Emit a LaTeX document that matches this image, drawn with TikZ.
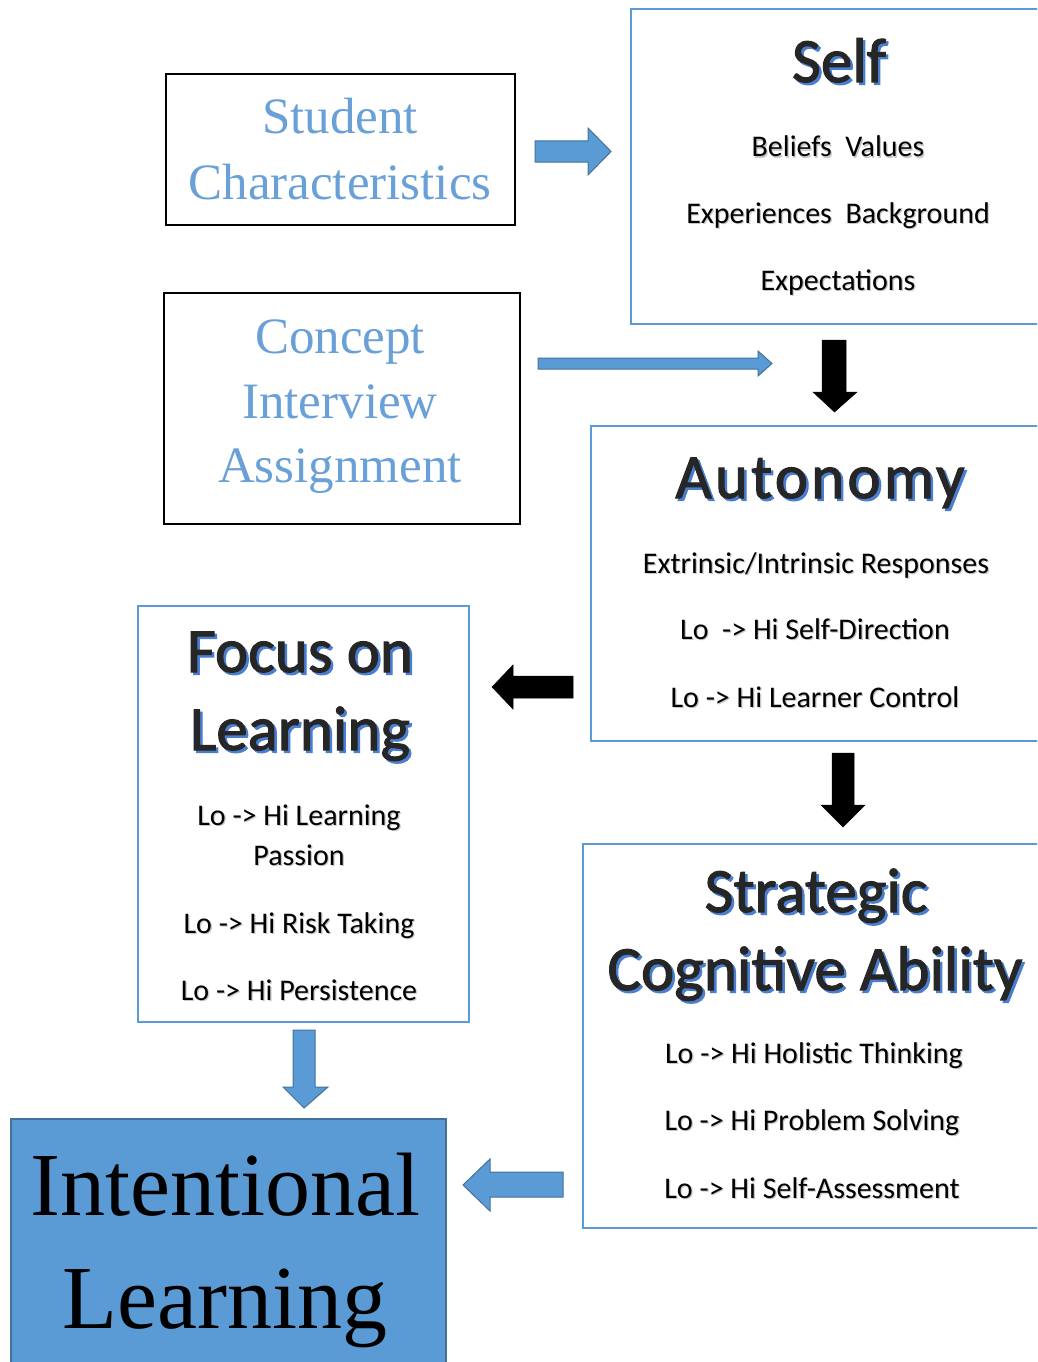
\documentclass[tikz,border=0pt]{standalone}
\usepackage{fontspec}
\usepackage{xcolor}
\setmainfont{Liberation Serif}
\newfontfamily\calfont{Carlito}
\newfontfamily\calhead[FakeBold=1.6]{Carlito}

\definecolor{boxblue}{RGB}{91,155,213}
\definecolor{edgeblue}{RGB}{65,113,156}
\definecolor{lightblue}{RGB}{106,160,216}
\definecolor{titlegray}{RGB}{38,38,38}
\definecolor{shadeblue}{RGB}{74,126,208}

% heading text with a blue drop shadow, body text with a soft grey one
\newcommand{\blueshade}[1]{\rlap{\kern2.5pt\raisebox{-2.5pt}{\color{shadeblue}#1}}{\color{titlegray}#1}}
\newcommand{\softshade}[1]{\rlap{\kern1.2pt\raisebox{-1.2pt}{\color{black!22}#1}}#1}

\begin{document}
\begin{tikzpicture}[x=1pt, y=-1pt,
    blackbox/.style={draw=black, line width=2pt, fill=white, anchor=north west, inner sep=0pt},
    bluebox/.style={draw=boxblue, line width=2pt, fill=white, anchor=north west, inner sep=0pt},
    bluearrow/.style={fill=boxblue, draw=edgeblue, line width=1pt, line join=miter},
    blackarrow/.style={fill=black, draw=black, line width=0.5pt},
    headline/.style={font=\calhead\fontsize{63}{70}\selectfont, anchor=base, inner sep=0pt},
    body/.style={font=\calfont\fontsize{30}{34}\selectfont, anchor=base, inner sep=0pt},
    serifline/.style={font=\fontsize{51}{56}\selectfont, text=lightblue, anchor=base, inner sep=0pt}]

\useasboundingbox (0,0) rectangle (1037,1362);
\clip (0,0) rectangle (1037,1362);

% Boxes
\node[blackbox, minimum width=349pt, minimum height=151pt] (studbox) at (165,73) {};
\node[blackbox, minimum width=356pt, minimum height=231pt] (conbox) at (163,292) {};
\node[bluebox, minimum width=416pt, minimum height=315pt] (selfbox) at (630,8) {};
\node[bluebox, minimum width=456pt, minimum height=315pt] (autbox) at (590,425) {};
\node[bluebox, minimum width=331pt, minimum height=416pt] (focbox) at (137,605) {};
\node[bluebox, minimum width=468pt, minimum height=384pt] (strbox) at (582,843) {};
\node[draw=edgeblue, fill=boxblue, line width=1.5pt, anchor=north west, inner sep=0pt,
      minimum width=435pt, minimum height=260pt] (intbox) at (10,1118) {};

% Block arrows
\draw[bluearrow] (535,141) -- (588,141) -- (588,128) -- (611,151.5) -- (588,175) -- (588,162) -- (535,162) -- cycle;
\draw[bluearrow] (538,358) -- (758,358) -- (758,351) -- (772,363.5) -- (758,376) -- (758,369) -- (538,369) -- cycle;
\draw[blackarrow] (822,340) -- (846,340) -- (846,392) -- (857,392) -- (834.5,412) -- (813,392) -- (822,392) -- cycle;
\draw[blackarrow] (573,676) -- (513,676) -- (513,665) -- (492,687) -- (513,709) -- (513,698) -- (573,698) -- cycle;
\draw[blackarrow] (832,753) -- (854,753) -- (854,805) -- (865,805) -- (843,827) -- (821,805) -- (832,805) -- cycle;
\draw[bluearrow] (293,1030) -- (315,1030) -- (315,1087) -- (328,1087) -- (304,1108) -- (283,1087) -- (293,1087) -- cycle;
\draw[bluearrow] (563,1172) -- (490,1172) -- (490,1159) -- (463,1185) -- (490,1211) -- (490,1197) -- (563,1197) -- cycle;

% Student characteristics
\node[serifline] (stud1) at (340,133) {Student};
\node[serifline] (stud2) at (340,199) {Characteristics};

% Concept interview
\node[serifline] (con1) at (340,353) {Concept};
\node[serifline] (con2) at (340,418) {Interview};
\node[serifline] (con3) at (340,482) {Assignment};

% Self
\node[headline] (selft) at (839,82) {\blueshade{Self}};
\node[body] (self1) at (838,157) {\softshade{Beliefs\ \ Values}};
\node[body] (self2) at (838,223) {\softshade{Experiences\ \ Background}};
\node[body] (self3) at (838,290) {\softshade{Expectations}};

% Autonomy
\node[headline] (autt) at (820,498) {\addfontfeatures{LetterSpace=5}\blueshade{Autonomy}};
\node[body] (aut1) at (816,573) {\softshade{Extrinsic/Intrinsic Responses}};
\node[body] (aut2) at (815,639) {\softshade{Lo\ \ -> Hi Self-Direction}};
\node[body] (aut3) at (815,707) {\softshade{Lo -> Hi Learner Control}};

% Focus on learning
\node[headline] (foct1) at (300,672) {\blueshade{Focus on}};
\node[headline] (foct2) at (300,750) {\blueshade{Learning}};
\node[body] (foc1) at (299,825) {\softshade{Lo -> Hi Learning}};
\node[body] (foc2) at (299,865) {\softshade{Passion}};
\node[body] (foc3) at (299,933) {\softshade{Lo -> Hi Risk Taking}};
\node[body] (foc4) at (299,1000) {\softshade{Lo -> Hi Persistence}};

% Strategic cognitive ability
\node[headline] (strt1) at (816,912) {\blueshade{Strategic}};
\node[headline] (strt2) at (815,990) {\blueshade{Cognitive Ability}};
\node[body] (str1) at (814,1063) {\softshade{Lo -> Hi Holistic Thinking}};
\node[body] (str2) at (812,1130) {\softshade{Lo\ -> Hi Problem Solving}};
\node[body] (str3) at (812,1198) {\softshade{Lo -> Hi Self-Assessment}};

% Intentional learning
\node[font=\fontsize{90}{96}\selectfont, anchor=base, inner sep=0pt] (int1) at (225,1215) {Intentional};
\node[font=\fontsize{90}{96}\selectfont, anchor=base, inner sep=0pt] (int2) at (225,1328) {Learning};

\end{tikzpicture}
\end{document}
